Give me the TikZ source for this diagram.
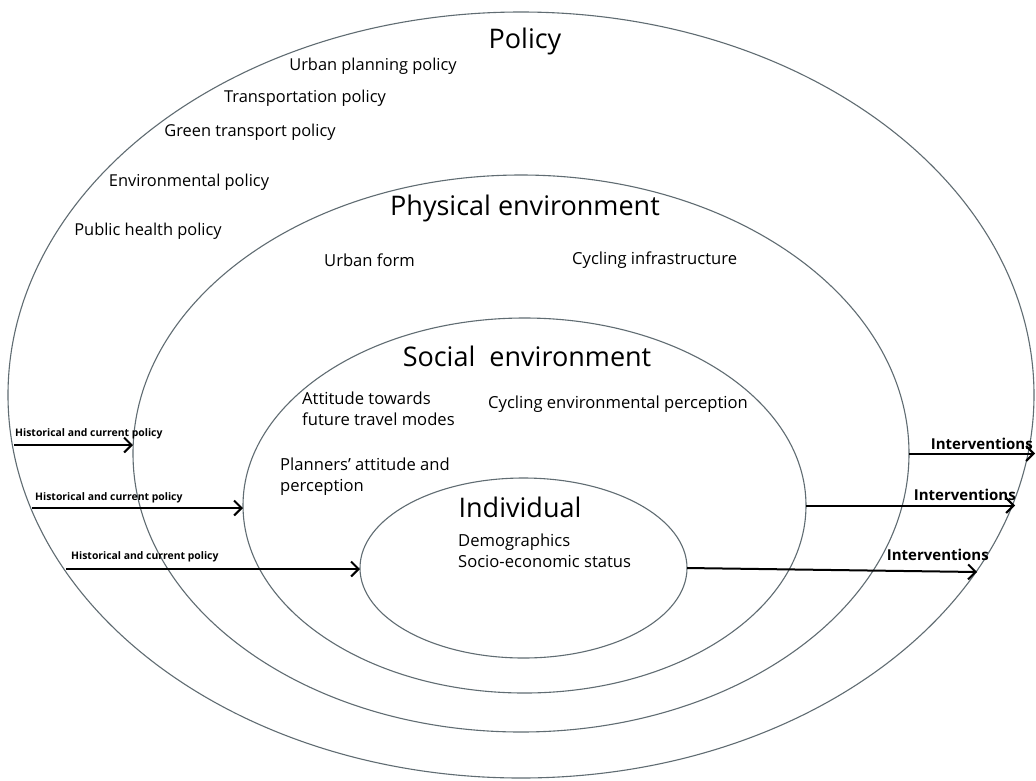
\documentclass[tikz,border=0pt]{standalone}
\usepackage{fontspec}
\setmainfont{Open Sans}
\usetikzlibrary{shapes.geometric,arrows.meta}
\definecolor{ringline}{RGB}{96,108,114}
\begin{document}
\begin{tikzpicture}[x=1pt,y=-1pt,
  ring/.style={ellipse,draw=ringline,line width=1.1pt,inner sep=0pt,outer sep=0pt},
  title/.style={font=\fontsize{27}{31}\selectfont,inner sep=0pt},
  item/.style={font=\fontsize{16.6}{21}\selectfont,inner sep=0pt,anchor=west,align=left},
  policyitem/.style={font=\fontsize{16.4}{19}\selectfont,inner sep=0pt},
  flow/.style={line width=2pt,-{Straight Barb[length=7.5pt,width=15pt,line width=2pt]}},
  inlabel/.style={font=\bfseries\fontsize{10.4}{12}\selectfont,inner sep=0pt,anchor=west},
  outlabel/.style={font=\bfseries\fontsize{15}{17}\selectfont,inner sep=0pt,anchor=east}]
\useasboundingbox[fill=white] (0,0) rectangle (1036,780);

% nested spheres of influence
\node[ring,minimum width=1026pt,minimum height=766pt] (pol) at (521,395) {};
\node[ring,minimum width=776pt,minimum height=557pt] (phy) at (521,453.5) {};
\node[ring,minimum width=563pt,minimum height=375pt] (soc) at (524.5,505.5) {};
\node[ring,minimum width=327pt,minimum height=180pt] (ind) at (523.5,568) {};

% policy layer
\node[title] (tpol) at (525,41) {Policy};
\node[policyitem] (p1) at (373,66) {Urban planning policy};
\node[policyitem] (p2) at (305,98) {Transportation policy};
\node[policyitem] (p3) at (250,132) {Green transport policy};
\node[policyitem] (p4) at (189,182) {Environmental policy};
\node[policyitem] (p5) at (148,231) {Public health policy};

% physical environment layer
\node[title] (tphy) at (525,208) {Physical environment};
\node[item] (ph1) at (324,260) {Urban form};
\node[item] (ph2) at (572,260) {Cycling infrastructure};

% social environment layer
\node[title] (tsoc) at (527,356) {Social\ \ environment};
\node[item] (s1) at (302,409) {Attitude towards\\future travel modes};
\node[item] (s2) at (488,404) {Cycling environmental perception};
\node[item] (s3) at (280,477) {Planners' attitude and\\perception};

% individual layer
\node[title] (tind) at (520,507) {Individual};
\node[item] (i1) at (458,551) {Demographics\\Socio-economic status};

% incoming policy arrows
\coordinate (a1) at (14,445);
\coordinate (a2) at (32,508);
\coordinate (a3) at (66,569);
\draw[flow] (a1) -- (a1 -| phy.west);
\draw[flow] (a2) -- (a2 -| soc.west);
\draw[flow] (a3) -- (a3 -| ind.west);
\node[inlabel] (l1) at (15,434) {Historical and current policy};
\node[inlabel] (l2) at (35,498) {Historical and current policy};
\node[inlabel] (l3) at (71,557) {Historical and current policy};

% outgoing intervention arrows
\coordinate (b1) at (1035,453.5);
\coordinate (b2) at (1015,505.5);
\coordinate (b3) at (977,572);
\draw[flow] (phy.east) -- (b1);
\draw[flow] (soc.east) -- (b2);
\draw[flow] (ind.east) -- (b3);
\node[outlabel] (r1) at (1033,444) {Interventions};
\node[outlabel] (r2) at (1016,495) {Interventions};
\node[outlabel] (r3) at (989,555) {Interventions};
\end{tikzpicture}
\end{document}
